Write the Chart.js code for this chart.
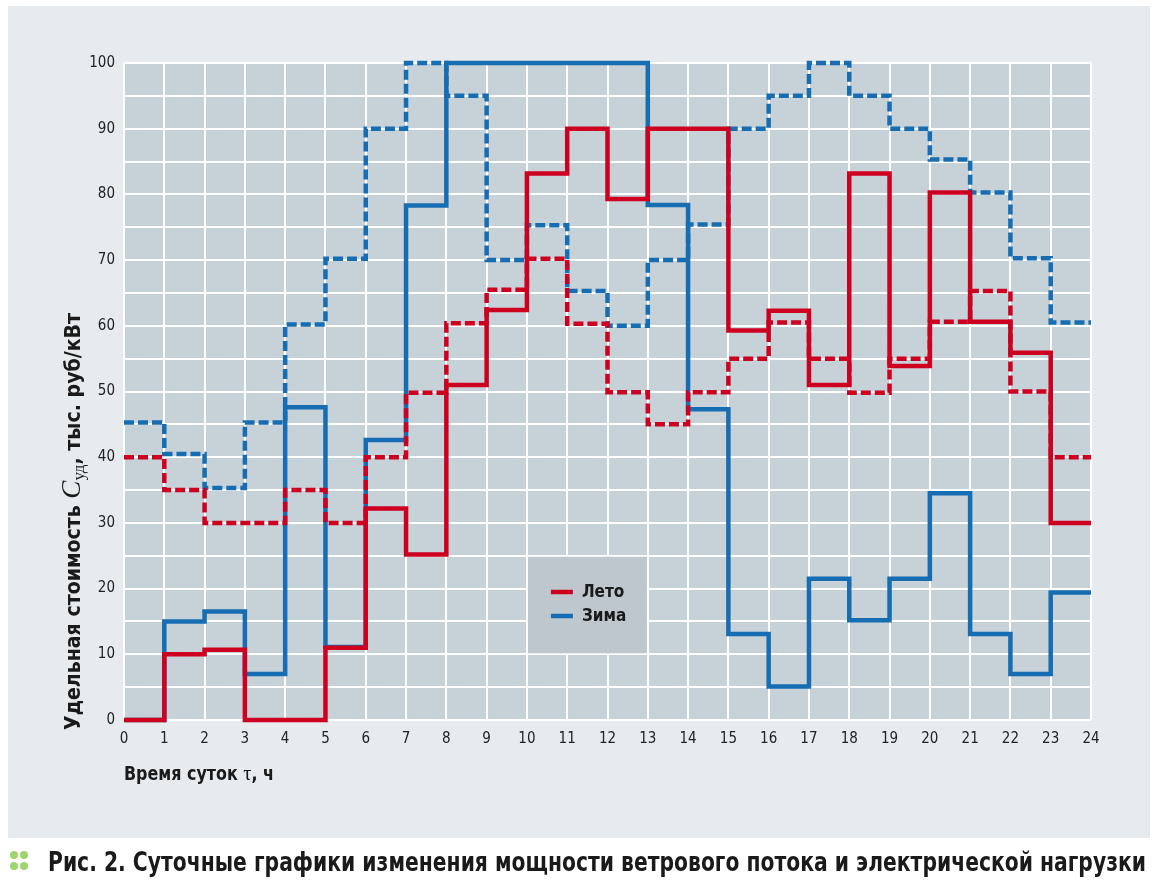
<!DOCTYPE html>
<html lang="ru">
<head>
<meta charset="UTF-8">
<title>Рис. 2. Суточные графики</title>
<style>
    html, body { margin: 0; padding: 0; background: #fff; }
    .wrap { position: relative; width: 1157px; height: 883px; }
</style>
</head>
<body>
<div class="wrap"><canvas id="chart"></canvas></div>

<script src="https://cdn.jsdelivr.net/npm/chart.js"></script>
<script>
// значение держится весь час: [h, h+1)
var hourTicks = [0, 1, 2, 3, 4, 5, 6, 7, 8, 9, 10, 11, 12, 13, 14, 15, 16, 17, 18, 19, 20, 21, 22, 23, 24];
var yTickLabels = [0, 10, 20, 30, 40, 50, 60, 70, 80, 90, 100];

// сплошные линии
var summerSolid = [0, 10, 10.7, 0, 0, 11, 32.2, 25.2, 51, 62.4, 83.2, 90, 79.3, 90, 90, 59.3, 62.3, 51, 83.2, 53.9, 80.3, 60.6, 55.9, 30];
var winterSolid = [0, 15, 16.5, 7, 47.6, 11.1, 42.6, 78.3, 100, 100, 100, 100, 100, 78.4, 47.3, 13.1, 5.1, 21.5, 15.2, 21.5, 34.5, 13.1, 7, 19.4];
// пунктирные линии
var summerDashed = [40, 35, 30, 30, 35, 30, 40, 49.8, 60.4, 65.5, 70.2, 60.3, 49.9, 45, 49.9, 55, 60.5, 55, 49.8, 55, 60.6, 65.3, 50, 40];
var winterDashed = [45.3, 40.5, 35.3, 45.3, 60.2, 70.2, 90, 100, 95, 70, 75.3, 65.3, 60, 70, 75.4, 90, 95, 100, 95, 90, 85.3, 80.3, 70.3, 60.5];

var RED = '#cd0020';
var BLUE = '#176db1';
var FONT = "'DejaVu Sans Condensed', 'Liberation Sans Narrow', Roboto, sans-serif";

function steps(values) {
    var pts = values.map(function (v, i) { return { x: hourTicks[i], y: v }; });
    pts.push({ x: hourTicks[values.length], y: values[values.length - 1] });
    return pts;
}

function line(label, values, color, dashed) {
    return {
        label: label,
        data: steps(values),
        stepped: 'before',
        borderColor: color,
        borderWidth: 4.5,
        borderDash: dashed ? [10, 4] : [],
        borderJoinStyle: 'miter',
        pointRadius: 0,
        fill: false,
        clip: 6
    };
}

// рисуем куски текста подряд и ужимаем по ширине
function drawParts(ctx, parts, x, y, width) {
    var total = 0;
    parts.forEach(function (p) { ctx.font = p.font; total += ctx.measureText(p.text).width; });
    var k = width / total;
    ctx.save();
    ctx.translate(x, y);
    ctx.scale(k, 1);
    var cx = 0;
    parts.forEach(function (p) {
        ctx.font = p.font;
        ctx.fillStyle = p.color || '#1a1a1a';
        ctx.fillText(p.text, cx, p.dy || 0);
        cx += ctx.measureText(p.text).width;
    });
    ctx.restore();
}

var decor = {
    id: 'decor',
    beforeDraw: function (chart) {
        var ctx = chart.ctx, a = chart.chartArea;
        ctx.save();
        ctx.fillStyle = '#ffffff';
        ctx.fillRect(0, 0, chart.width, chart.height);
        ctx.fillStyle = '#e7ebee';
        ctx.fillRect(8, 6, 1142, 832);
        ctx.fillStyle = '#c6d1d8';
        ctx.fillRect(a.left, a.top, a.right - a.left, a.bottom - a.top);
        ctx.restore();
    },
    beforeDatasetsDraw: function (chart) {
        // легенда в серой плашке внутри графика
        var ctx = chart.ctx, xs = chart.scales.x, ys = chart.scales.y;
        var l = xs.getPixelForValue(10), r = xs.getPixelForValue(13);
        var t = ys.getPixelForValue(25), b = ys.getPixelForValue(10);
        ctx.save();
        ctx.fillStyle = '#bec7ce';
        ctx.fillRect(l + 1, t + 1, r - l - 2, b - t - 2);
        var items = [['Лето', RED, 592], ['Зима', BLUE, 616]];
        items.forEach(function (it) {
            ctx.strokeStyle = it[1];
            ctx.lineWidth = 4.5;
            ctx.beginPath();
            ctx.moveTo(l + 24, it[2]);
            ctx.lineTo(l + 46, it[2]);
            ctx.stroke();
            ctx.fillStyle = '#1a1a1a';
            ctx.font = 'bold 17px ' + FONT;
            ctx.textBaseline = 'middle';
            ctx.fillText(it[0], l + 55, it[2] + 1);
        });
        ctx.restore();
    },
    afterDraw: function (chart) {
        var ctx = chart.ctx;
        ctx.save();
        ctx.textBaseline = 'alphabetic';

        // подпись оси Y
        ctx.save();
        ctx.translate(80, 730);
        ctx.rotate(-Math.PI / 2);
        drawParts(ctx, [
            { text: 'Удельная стоимость ', font: 'bold 21px ' + FONT },
            { text: 'C', font: 'italic 27px "Liberation Serif", serif' },
            { text: 'уд', font: '17px "Liberation Serif", serif', dy: 4 },
            { text: ', тыс. руб/кВт', font: 'bold 21px ' + FONT }
        ], 0, 0, 417);
        ctx.restore();

        // подпись оси X
        drawParts(ctx, [
            { text: 'Время суток ', font: 'bold 19px ' + FONT },
            { text: 'τ', font: '22px "Liberation Serif", serif' },
            { text: ', ч', font: 'bold 19px ' + FONT }
        ], 124, 780, 150);

        // подпись рисунка
        ctx.fillStyle = '#9fd56d';
        [[14, 855], [24, 855], [14, 866], [24, 866]].forEach(function (p) {
            ctx.beginPath();
            ctx.arc(p[0], p[1], 4, 0, Math.PI * 2);
            ctx.fill();
        });
        drawParts(ctx, [
            { text: 'Рис. 2.', font: 'bold 26px ' + FONT },
            { text: ' Суточные графики изменения мощности ветрового потока и электрической нагрузки', font: '600 26px ' + FONT }
        ], 48, 871, 1098);
        ctx.restore();
    }
};

var ctx = document.getElementById('chart').getContext('2d');
var chart = new Chart(ctx, {
    type: 'line',
    data: {
        datasets: [
            line('Лето', summerSolid, RED, false),
            line('Лето (пунктир)', summerDashed, RED, true),
            line('Зима', winterSolid, BLUE, false),
            line('Зима (пунктир)', winterDashed, BLUE, true)
        ]
    },
    options: {
        responsive: true,
        maintainAspectRatio: false,
        animation: false,
        layout: { padding: { top: 63, right: 66, left: 0, bottom: 0 } },
        plugins: {
            legend: { display: false },
            tooltip: { enabled: false }
        },
        scales: {
            x: {
                type: 'linear',
                min: 0,
                max: 24,
                afterBuildTicks: function (s) { s.ticks = hourTicks.map(function (v) { return { value: v }; }); },
                ticks: { color: '#222', font: { family: FONT, size: 15 }, padding: 10, maxRotation: 0, autoSkip: false },
                grid: { color: '#ffffff', lineWidth: 2, drawTicks: false },
                border: { display: false },
                afterFit: function (s) { s.height = 163; }
            },
            y: {
                min: 0,
                max: 100,
                ticks: {
                    stepSize: 5,
                    color: '#222',
                    font: { family: FONT, size: 15 },
                    padding: 9,
                    callback: function (v) { return yTickLabels.indexOf(v) >= 0 ? String(v) : ''; }
                },
                grid: { color: '#ffffff', lineWidth: 2, drawTicks: false },
                border: { display: false },
                afterFit: function (s) { s.width = 124; }
            }
        }
    },
    plugins: [decor]
});
</script>
</body>
</html>
